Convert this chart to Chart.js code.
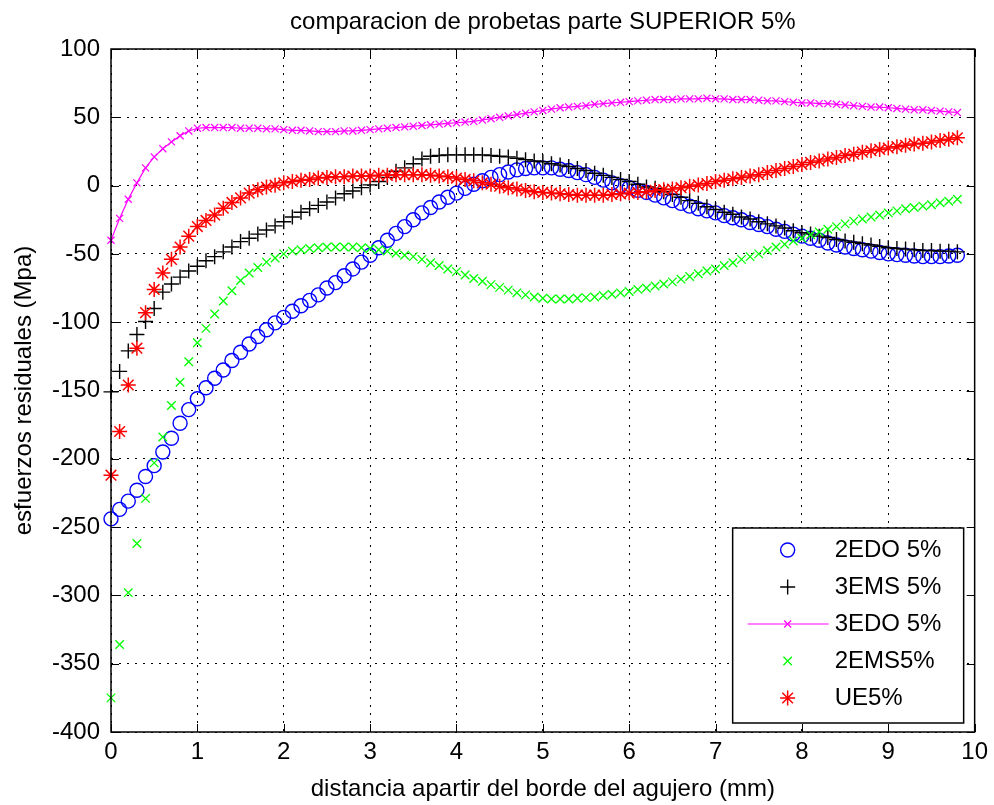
<!DOCTYPE html>
<html>
<head>
<meta charset="utf-8">
<title>comparacion de probetas parte SUPERIOR 5%</title>
<script src="https://cdn.jsdelivr.net/npm/chart.js@4.4.1/dist/chart.umd.min.js"></script>
<style>
    html, body { margin: 0; padding: 0; background: #fff; }
    #wrap { width: 994px; height: 805px; }
</style>
</head>
<body>
<div id="wrap"><canvas id="idChartProbetas" width="994" height="805"></canvas></div>
<script>
// distancia apartir del borde del agujero (mm)
var aDistancia = [
    0, 0.1, 0.2, 0.3, 0.4, 0.5, 0.6, 0.7, 0.8, 0.9,
    1, 1.1, 1.2, 1.3, 1.4, 1.5, 1.6, 1.7, 1.8, 1.9,
    2, 2.1, 2.2, 2.3, 2.4, 2.5, 2.6, 2.7, 2.8, 2.9,
    3, 3.1, 3.2, 3.3, 3.4, 3.5, 3.6, 3.7, 3.8, 3.9,
    4, 4.1, 4.2, 4.3, 4.4, 4.5, 4.6, 4.7, 4.8, 4.9,
    5, 5.1, 5.2, 5.3, 5.4, 5.5, 5.6, 5.7, 5.8, 5.9,
    6, 6.1, 6.2, 6.3, 6.4, 6.5, 6.6, 6.7, 6.8, 6.9,
    7, 7.1, 7.2, 7.3, 7.4, 7.5, 7.6, 7.7, 7.8, 7.9,
    8, 8.1, 8.2, 8.3, 8.4, 8.5, 8.6, 8.7, 8.8, 8.9,
    9, 9.1, 9.2, 9.3, 9.4, 9.5, 9.6, 9.7, 9.8
];

// esfuerzos residuales (Mpa)
var a2EDO = [
    -244, -237, -231, -223, -213, -205, -195, -185, -174, -164,
    -156, -148, -141, -135, -128, -122, -116, -110.5, -105.5, -100.5,
    -96.5, -92, -88, -84, -80, -75, -71, -66, -61, -56,
    -51, -45.5, -40, -35, -30, -25, -20, -16, -12, -8.5,
    -5.5, -2, 1, 3.5, 6, 8, 10, 11.5, 12.5, 13,
    13, 13, 12, 11, 9.5, 8, 6, 4, 2, 0,
    -1.5, -3.5, -5, -7, -9, -11, -13, -15, -17, -18.5,
    -20, -22, -23.5, -25, -27, -28.5, -30, -32, -33.5, -35.5,
    -37, -38.5, -40, -42, -43.5, -45, -46, -47, -48, -49,
    -50, -50.5, -51, -51.5, -52, -52, -52, -51.5, -51
];

var a3EMS = [
    -151, -136, -121, -109, -99.5, -90, -78, -72, -67, -62.5,
    -59, -55, -52, -48.5, -45, -41, -38.5, -35.5, -32.5, -29.5,
    -26.5, -23, -19.5, -17, -14.5, -12, -9, -6, -4, -1.5,
    0.5, 3, 6, 10.5, 13, 16, 19.5, 21.5, 22, 22.5,
    22.5, 22.5, 22.5, 22.5, 22, 21.5, 21, 20, 19, 18,
    17.5, 16, 15, 14, 12.5, 11, 9, 7.5, 6, 4.5,
    3, 1, -1, -2, -4.5, -6.5, -8.5, -11, -13, -15.5,
    -17.5, -19.5, -21, -23, -24.5, -26.5, -28, -29.5, -31, -33,
    -34.5, -35.5, -37, -38, -39.5, -40.5, -41.5, -42.5, -43.5, -44.5,
    -45.5, -46, -46.5, -47, -47.5, -47.5, -48, -48, -48.5
];

var a3EDO = [
    -40, -24, -10, 2, 13, 21, 27, 32, 36.5, 40,
    42, 42.5, 42.5, 42.5, 42.5, 42, 42, 42, 41.5, 41.5,
    41, 40.5, 40.5, 40, 39.5, 39.5, 39.5, 40, 40, 40.5,
    41, 41.5, 42, 42.5, 43, 43.5, 44, 44.5, 45, 45.5,
    46, 46.5, 47, 48, 49, 50, 51, 52, 53, 54,
    55, 56, 57, 57.5, 58, 58.5, 59.5, 60, 60.5, 61,
    61.5, 62, 62.5, 63, 63, 63, 63.5, 63.5, 63.5, 64,
    63.5, 63.5, 63, 63, 63, 62.5, 62, 62, 61.5, 61,
    60.5, 60.5, 60, 60, 59.5, 59, 58.5, 58, 57.5, 57.5,
    57, 56.5, 56, 55.5, 55.5, 55, 54.5, 54, 53.5
];

var a2EMS = [
    -375, -336, -298, -262, -229, -203, -184, -161, -144, -129,
    -115, -104.5, -94, -84.5, -77, -69.5, -64, -60, -56, -53,
    -50, -48, -47, -46, -45.5, -45, -45, -45, -45, -45.5,
    -46, -47, -48, -49.5, -51, -52, -54, -56.5, -58.5, -61,
    -63, -65.5, -68, -70, -72.5, -74.5, -76.5, -78.5, -80, -81.5,
    -82.5, -83, -83, -83, -82.5, -82, -81.5, -80.5, -79.5, -78.5,
    -77.5, -76, -75, -73.5, -72, -70.5, -68.5, -66.5, -64.5, -62.5,
    -61, -58.5, -56.5, -54, -52, -50, -47.5, -45, -43, -40.5,
    -38.5, -36, -34, -32, -30, -28, -26, -24.5, -23, -21.5,
    -20, -18.5, -17, -16, -15, -14, -12.5, -11.5, -10
];

var aUE = [
    -212, -180, -146, -119, -93, -76, -64, -54, -45, -37,
    -30, -25.5, -21.5, -16.5, -12.3, -9, -5.5, -3, -1, 0.3,
    2, 3, 4, 4.5, 5.5, 6, 6.5, 6.5, 7, 7,
    7, 7.5, 7.5, 8, 8, 8, 8, 7.5, 7, 6.5,
    5.5, 4.5, 3.5, 2, 1, -0.5, -1.5, -2.5, -3.5, -4.5,
    -5, -5.5, -6, -6.5, -7, -7, -7, -7, -6.5, -6,
    -5.5, -5, -4.5, -3.5, -3, -2.5, -1.5, -0.5, 0.5, 1.5,
    3, 4, 5, 6, 7, 8, 9.5, 11, 12.5, 14,
    15.5, 17, 18, 19.5, 20.5, 22, 23, 24.5, 25.5, 26.5,
    27.5, 28.5, 29.5, 30.5, 31, 32, 33, 34, 35
];

var aTicksX = [0, 1, 2, 3, 4, 5, 6, 7, 8, 9, 10];
var aTicksY = [-400, -350, -300, -250, -200, -150, -100, -50, 0, 50, 100];

var sTitle = 'comparacion de probetas parte SUPERIOR 5%';
var sFont = '"Liberation Sans", Arial, Helvetica, sans-serif';

function toPoints(aSerie) {
    var aData = [];
    for (var i = 0; i < aDistancia.length; i++) {
        aData.push({ x: aDistancia[i], y: aSerie[i] });
    }
    return aData;
}

// title, axes box with inward ticks and legend, matlab style
const oMatlabPlugin = {
    id: 'matlabAxes',
    afterDatasetsDraw: function (chart) {
        var ctx = chart.ctx;
        var a = chart.chartArea;
        var oX = chart.scales.x;
        var oY = chart.scales.y;
        var iTick = 8;
        var i, p;

        ctx.save();
        ctx.strokeStyle = '#000';
        ctx.lineWidth = 1.5;
        ctx.strokeRect(a.left, a.top, a.right - a.left, a.bottom - a.top);

        ctx.lineWidth = 1;
        ctx.beginPath();
        for (i = 0; i < aTicksX.length; i++) {
            p = Math.round(oX.getPixelForValue(aTicksX[i])) + 0.5;
            ctx.moveTo(p, a.bottom); ctx.lineTo(p, a.bottom - iTick);
            ctx.moveTo(p, a.top); ctx.lineTo(p, a.top + iTick);
        }
        for (i = 0; i < aTicksY.length; i++) {
            p = Math.round(oY.getPixelForValue(aTicksY[i])) + 0.5;
            ctx.moveTo(a.left, p); ctx.lineTo(a.left + iTick, p);
            ctx.moveTo(a.right, p); ctx.lineTo(a.right - iTick, p);
        }
        ctx.stroke();

        // title
        ctx.fillStyle = '#000';
        ctx.font = '24px ' + sFont;
        ctx.textAlign = 'center';
        ctx.textBaseline = 'middle';
        ctx.fillText(sTitle, (a.left + a.right) / 2, 22);

        // legend box (south east)
        var iBoxW = 231, iBoxH = 195;
        var iBoxX = a.right - 11 - iBoxW;
        var iBoxY = a.bottom - 9 - iBoxH;
        ctx.fillStyle = '#fff';
        ctx.fillRect(iBoxX, iBoxY, iBoxW, iBoxH);
        ctx.strokeStyle = '#000';
        ctx.lineWidth = 1.5;
        ctx.strokeRect(iBoxX, iBoxY, iBoxW, iBoxH);

        var aSets = chart.data.datasets;
        for (i = 0; i < aSets.length; i++) {
            var oSet = aSets[i];
            var yRow = iBoxY + 22 + i * 37;
            var xMark = iBoxX + 55;
            ctx.strokeStyle = oSet.borderColor;
            ctx.lineWidth = 1;
            if (oSet.showLine) {
                ctx.beginPath();
                ctx.moveTo(iBoxX + 15, yRow);
                ctx.lineTo(iBoxX + 96, yRow);
                ctx.stroke();
            }
            ctx.lineWidth = oSet.pointBorderWidth;
            ctx.fillStyle = 'rgba(0,0,0,0)';
            Chart.helpers.drawPoint(ctx, {
                pointStyle: oSet.pointStyle,
                radius: oSet.pointRadius,
                rotation: 0,
                borderWidth: oSet.pointBorderWidth
            }, xMark, yRow);
            ctx.fillStyle = '#000';
            ctx.font = '24px ' + sFont;
            ctx.textAlign = 'left';
            ctx.textBaseline = 'middle';
            ctx.fillText(oSet.label, iBoxX + 102, yRow);
        }
        ctx.restore();
    }
};

function initChartProbetas() {

    const data = {
        datasets: [{
            label: '2EDO 5%',
            data: toPoints(a2EDO),
            borderColor: '#0000ff',
            backgroundColor: 'rgba(0,0,0,0)',
            pointStyle: 'circle',
            pointRadius: 7,
            pointBorderWidth: 1.4,
            showLine: false,
            order: 5
        }, {
            label: '3EMS 5%',
            data: toPoints(a3EMS),
            borderColor: '#000000',
            backgroundColor: 'rgba(0,0,0,0)',
            pointStyle: 'cross',
            pointRadius: 7.5,
            pointBorderWidth: 1.4,
            showLine: false,
            order: 4
        }, {
            label: '3EDO 5%',
            data: toPoints(a3EDO),
            borderColor: '#ff00ff',
            backgroundColor: 'rgba(0,0,0,0)',
            pointStyle: 'crossRot',
            pointRadius: 5,
            pointBorderWidth: 1.2,
            borderWidth: 1.2,
            showLine: true,
            order: 3
        }, {
            label: '2EMS5%',
            data: toPoints(a2EMS),
            borderColor: '#00ff00',
            backgroundColor: 'rgba(0,0,0,0)',
            pointStyle: 'crossRot',
            pointRadius: 6,
            pointBorderWidth: 1.3,
            showLine: false,
            order: 2
        }, {
            label: 'UE5%',
            data: toPoints(aUE),
            borderColor: '#ff0000',
            backgroundColor: 'rgba(0,0,0,0)',
            pointStyle: 'star',
            pointRadius: 7.5,
            pointBorderWidth: 1.5,
            showLine: false,
            order: 1
        }]
    };

    const config = {
        type: 'scatter',
        data: data,
        options: {
            responsive: false,
            animation: false,
            clip: false,
            layout: {
                padding: { top: 49, right: 16, left: 0, bottom: 0 }
            },
            plugins: {
                legend: { display: false },
                title: { display: false },
                tooltip: { enabled: false }
            },
            scales: {
                x: {
                    type: 'linear',
                    min: 0,
                    max: 10,
                    afterBuildTicks: function (scale) {
                        scale.ticks = aTicksX.map(function (v) { return { value: v }; });
                    },
                    afterFit: function (scale) { scale.height = 73; },
                    grid: { color: '#000', lineWidth: 1, drawTicks: false },
                    border: { display: false, dash: [2, 6] },
                    ticks: {
                        color: '#000',
                        padding: 6,
                        maxRotation: 0,
                        font: { family: sFont, size: 24 }
                    },
                    title: {
                        display: true,
                        text: 'distancia apartir del borde del agujero (mm)',
                        color: '#000',
                        font: { family: sFont, size: 24 },
                        padding: { top: 0, bottom: 1 }
                    }
                },
                y: {
                    type: 'linear',
                    min: -400,
                    max: 100,
                    afterBuildTicks: function (scale) {
                        scale.ticks = aTicksY.map(function (v) { return { value: v }; });
                    },
                    afterFit: function (scale) { scale.width = 111; },
                    grid: { color: '#000', lineWidth: 1, drawTicks: false },
                    border: { display: false, dash: [2, 6] },
                    ticks: {
                        color: '#000',
                        padding: 11,
                        font: { family: sFont, size: 24 }
                    },
                    title: {
                        display: true,
                        text: 'esfuerzos residuales (Mpa)',
                        color: '#000',
                        font: { family: sFont, size: 24 },
                        padding: { top: 10, bottom: 0 }
                    }
                }
            }
        },
        plugins: [oMatlabPlugin]
    };

    const oChartProbetas = new Chart(
        document.getElementById('idChartProbetas'),
        config
    );
}

initChartProbetas();
</script>
</body>
</html>
